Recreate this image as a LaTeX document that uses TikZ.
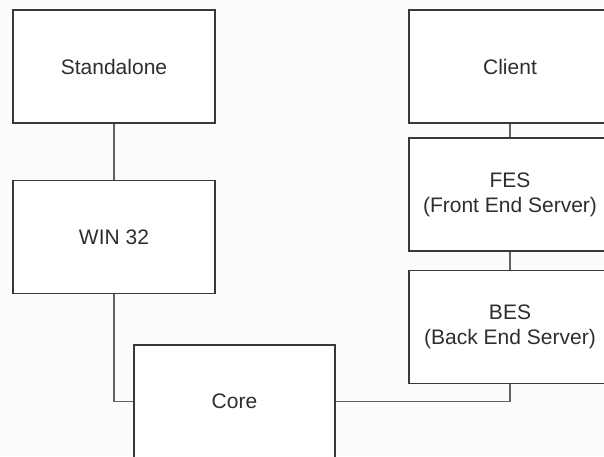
\documentclass[tikz,border=0pt]{standalone}
\usepackage{fontspec}
\setmainfont{Liberation Sans}
\usepackage{tikz}
\usetikzlibrary{calc}

\begin{document}
\begin{tikzpicture}[x=1pt,y=1pt,
    box/.style={draw=black!78, line width=1.8pt, fill=white, minimum width=202pt, minimum height=113pt,
        inner sep=0pt, align=center, text=black!82, font=\fontsize{21}{25}\selectfont},
    wire/.style={draw=black!62, line width=1.8pt}]
            \useasboundingbox (0,0) rectangle (604,456);
            \clip (0,0) rectangle (604,456);
            \fill[black!1] (0,0) rectangle (604,456);
            \node[box] (Stand) at (114,389.5) {Standalone};
            \node[box] at ($(Stand)+(0,-170.5)$) (Win) {WIN 32};
            \node[box] at ($(Stand)+(396,0)$) (Client) {Client};
            \node[box] at ($(Client)+(0,-128)$) (Fes) {FES\\(Front End Server)};
            \node[box] at ($(Fes)+(0,-132.5)$) (Bes) {BES\\(Back End Server)};
            \node[box, minimum width=201pt] at (234.5,54.5) (Core) {Core};
            \draw[wire] (Stand.south) -- (Win.north);
            \draw[wire] (Win.south) |- (Core.west);
            \draw[wire] (Client.south) -- (Fes.north);
            \draw[wire] (Fes.south) -- (Bes.north);
            \draw[wire] (Bes.south) |- (Core.east);
        \end{tikzpicture}
\end{document}
